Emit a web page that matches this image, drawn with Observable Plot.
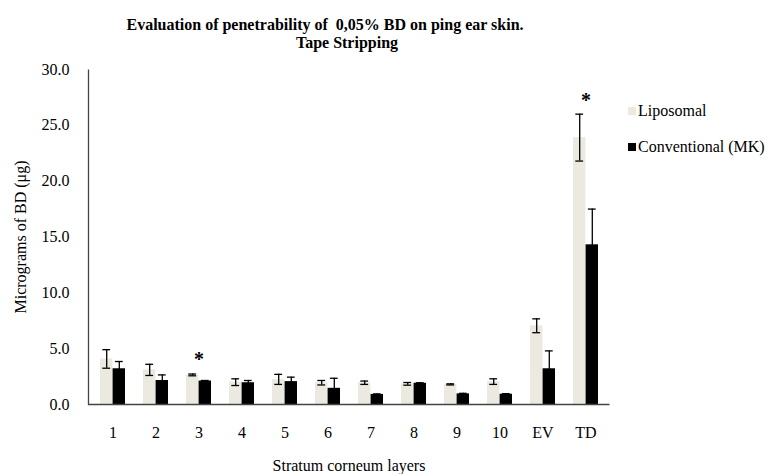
<!DOCTYPE html>
<html>
<head>
<meta charset="utf-8">
<script src="https://cdn.jsdelivr.net/npm/d3@7"></script>
<script src="https://cdn.jsdelivr.net/npm/@observablehq/plot@0.6"></script>
<style>
  html, body { margin: 0; padding: 0; background: #fff; }
  #wrap { position: relative; width: 776px; height: 474px; color: #000; }
  .title { position: absolute; font-weight: bold; font-size: 16px; white-space: pre; transform: translate(-50%, -50%); line-height: 1; }
  .leg { position: absolute; font-size: 16px; white-space: pre; line-height: 1; display: flex; align-items: center; transform: translateY(-50%); }
  .sw { width: 8px; height: 8px; margin-right: 2px; display: inline-block; }
</style>
</head>
<body>
<div id="wrap"></div>
<script>
const title1 = "Evaluation of penetrability of  0,05% BD on ping ear skin.";
const title2 = "Tape Stripping";
const categories = ["1","2","3","4","5","6","7","8","9","10","EV","TD"];
const seriesNames = ["Liposomal", "Conventional (MK)"];
const liposomal    = [4.08, 3.10, 2.65, 2.00, 2.25, 1.95, 1.95, 1.85, 1.80, 2.05, 7.05, 23.9];
const liposomalErr = [0.83, 0.50, 0.08, 0.30, 0.45, 0.20, 0.15, 0.12, 0.05, 0.25, 0.62, 2.10];
const conventional    = [3.20, 2.15, 2.10, 1.95, 2.05, 1.45, 0.90, 1.90, 0.95, 0.92, 3.20, 14.3];
const conventionalErr = [0.65, 0.50, 0.05, 0.20, 0.40, 0.90, 0.05, 0.05, 0.05, 0.05, 1.60, 3.20];
const significant = ["3", "TD"];
const yTicks = [0, 5, 10, 15, 20, 25, 30];
const colors = ["#ECEAE0", "#000000"];

const FONT = '"Liberation Serif", "Times New Roman", serif';
const W = 776, H = 474, mL = 88, mR = 167, mT = 69, mB = 70;
const fw = W - mL - mR, fh = H - mT - mB;
const padIn = 0.42, padOut = 0.21;
const step = fw / (categories.length - padIn + 2 * padOut);
const bw = step * (1 - padIn);
const half = bw / 2;
const capW = 8;

const lipoRows = categories.map((c, i) => ({cat: c, v: liposomal[i], lo: liposomal[i] - liposomalErr[i], hi: liposomal[i] + liposomalErr[i]}));
const convRows = categories.map((c, i) => ({cat: c, v: conventional[i], lo: conventional[i] - conventionalErr[i], hi: conventional[i] + conventionalErr[i]}));
const starRows = significant.map(c => {
  const i = categories.indexOf(c);
  return {cat: c, top: Math.max(lipoRows[i].hi, convRows[i].hi)};
});

const capInL1 = half / 2 - capW / 2, capInR1 = bw - (half / 2 + capW / 2);
const capInL2 = half + half / 2 - capW / 2, capInR2 = bw - (half + half / 2 + capW / 2);

const chart = Plot.plot({
  width: W, height: H,
  marginLeft: mL, marginRight: mR, marginTop: mT, marginBottom: mB,
  style: {fontFamily: FONT, fontSize: "16px", color: "#000", background: "#fff"},
  x: {domain: categories, paddingInner: padIn, paddingOuter: padOut, align: 0.5},
  y: {domain: [0, 30]},
  marks: [
    Plot.barY(lipoRows, {x: "cat", y: "v", fill: colors[0], insetRight: half}),
    Plot.barY(convRows, {x: "cat", y: "v", fill: colors[1], insetLeft: half}),
    Plot.ruleX(lipoRows, {x: "cat", y1: "lo", y2: "hi", dx: -half / 2, stroke: "#000", strokeWidth: 1.3}),
    Plot.tickY(lipoRows, {x: "cat", y: "hi", insetLeft: capInL1, insetRight: capInR1, stroke: "#000", strokeWidth: 1.3}),
    Plot.tickY(lipoRows, {x: "cat", y: "lo", insetLeft: capInL1, insetRight: capInR1, stroke: "#000", strokeWidth: 1.3}),
    Plot.ruleX(convRows, {x: "cat", y1: "lo", y2: "hi", dx: half / 2, stroke: "#000", strokeWidth: 1.3}),
    Plot.tickY(convRows, {x: "cat", y: "hi", insetLeft: capInL2, insetRight: capInR2, stroke: "#000", strokeWidth: 1.3}),
    Plot.text(starRows, {x: "cat", y: "top", text: () => "*", dy: -14, fontSize: 20, fontWeight: "bold", fill: "#000"}),
    Plot.frame({stroke: "#444", strokeWidth: 1.3, strokeDasharray: `0 ${fw + fh} ${fw + fh}`}),
    Plot.axisX({tickSize: 0, tickPadding: 22, label: "Stratum corneum layers", labelAnchor: "center", labelOffset: 66, fill: "#000"}),
    Plot.axisY({ticks: yTicks, tickFormat: d => d.toFixed(1), tickSize: 0, tickPadding: 19, label: "Micrograms of BD (μg)", labelAnchor: "center", labelOffset: 74, labelArrow: "none", fill: "#000"})
  ]
});

const wrap = document.getElementById("wrap");
wrap.appendChild(chart);
chart.style.position = "absolute";
chart.style.left = "0px";
chart.style.top = "0px";

function addDiv(cls, text, x, y) {
  const d = document.createElement("div");
  d.className = cls;
  d.textContent = text;
  d.style.left = x + "px";
  d.style.top = y + "px";
  d.style.fontFamily = FONT;
  wrap.appendChild(d);
  return d;
}
addDiv("title", title1, 325, 25);
addDiv("title", title2, 347, 43);

const legY = [110.5, 147];
seriesNames.forEach((name, i) => {
  const d = document.createElement("div");
  d.className = "leg";
  d.style.left = "628px";
  d.style.top = legY[i] + "px";
  d.style.fontFamily = FONT;
  const sw = document.createElement("span");
  sw.className = "sw";
  sw.style.background = colors[i];
  const t = document.createElement("span");
  t.textContent = name;
  t.style.fontFamily = FONT;
  d.appendChild(sw);
  d.appendChild(t);
  wrap.appendChild(d);
});
</script>
</body>
</html>
